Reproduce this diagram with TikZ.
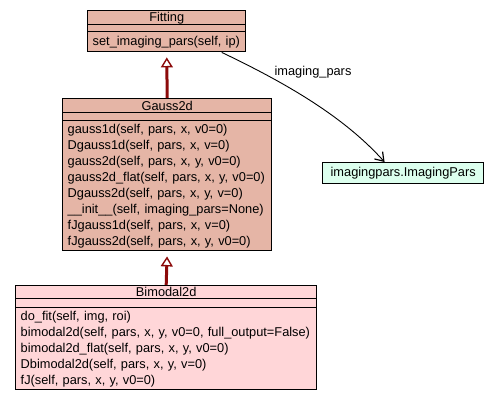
\documentclass[tikz,border=0pt]{standalone}
\usepackage{fontspec}
\setmainfont{Liberation Sans}
\usetikzlibrary{arrows.meta}
\definecolor{classfill}{RGB}{229,181,166}
\definecolor{subfill}{RGB}{255,214,216}
\definecolor{parsfill}{RGB}{220,255,238}
\definecolor{inherit}{RGB}{140,10,10}
\begin{document}
\begin{tikzpicture}[x=1pt, y=-1pt,
  part/.style={draw, line width=1.4pt, anchor=north west, inner sep=0pt, font=\fontsize{12.8}{16}\selectfont},
  title/.style={part, align=center},
  meth/.style={part, align=left, inner xsep=5pt},
  inh/.style={draw=inherit, line width=3pt, shorten >=5pt, -{Triangle[open, fill=white, length=10pt, width=12pt, line width=1.4pt]}},
  assoc/.style={draw, line width=0.9pt, -{Straight Barb[length=8pt, width=11pt, line width=1.2pt]}}]
\useasboundingbox (0,0) rectangle (497,400);
% Fitting
\node[title, fill=classfill, minimum width=158pt, minimum height=14pt] (fittitle) at (87,10) {Fitting};
\node[part, fill=classfill, minimum width=158pt, minimum height=7pt] (fitattr) at (87,24) {};
\node[meth, fill=classfill, minimum width=158pt, minimum height=20pt, text width=148pt] (fitmeth) at (87,31) {set\_imaging\_pars(self, ip)};
% Gauss2d
\node[title, fill=classfill, minimum width=209pt, minimum height=14pt] (gausstitle) at (62,98) {Gauss2d};
\node[part, fill=classfill, minimum width=209pt, minimum height=8pt] (gaussattr) at (62,112) {};
\node[meth, fill=classfill, minimum width=209pt, minimum height=130pt, text width=199pt] (gaussmeth) at (62,120) {gauss1d(self, pars, x, v0=0)\\
Dgauss1d(self, pars, x, v=0)\\
gauss2d(self, pars, x, y, v0=0)\\
gauss2d\_flat(self, pars, x, y, v0=0)\\
Dgauss2d(self, pars, x, y, v=0)\\
\_\_init\_\_(self, imaging\_pars=None)\\
fJgauss1d(self, pars, x, v=0)\\
fJgauss2d(self, pars, x, y, v0=0)};
% Bimodal2d
\node[title, fill=subfill, minimum width=301pt, minimum height=13pt] (bititle) at (15,285) {Bimodal2d};
\node[part, fill=subfill, minimum width=301pt, minimum height=9pt] (biattr) at (15,298) {};
\node[meth, fill=subfill, minimum width=301pt, minimum height=82pt, text width=291pt] (bimeth) at (15,307) {do\_fit(self, img, roi)\\
bimodal2d(self, pars, x, y, v0=0, full\_output=False)\\
bimodal2d\_flat(self, pars, x, y, v0=0)\\
Dbimodal2d(self, pars, x, y, v=0)\\
fJ(self, pars, x, y, v0=0)};
% ImagingPars
\node[part, fill=parsfill, minimum width=161pt, minimum height=21pt] (imgpars) at (322,162) {imagingpars.ImagingPars};
% links
\draw[inh] (gausstitle.north) -- (fitmeth.south);
\draw[inh] (bititle.north) -- (gaussmeth.south);
\draw[assoc] (fitmeth.-11.8) .. controls (290,85) and (345,118) .. (imgpars.149);
\node[font=\fontsize{12.8}{16}\selectfont] (assoclabel) at (313,72) {imaging\_pars};
\end{tikzpicture}
\end{document}
